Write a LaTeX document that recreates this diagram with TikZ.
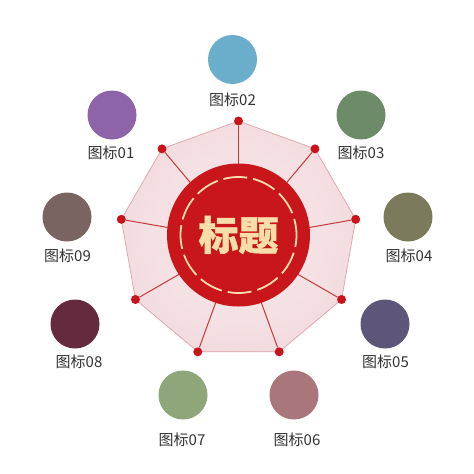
\documentclass[tikz,border=0pt]{standalone}
\usepackage{fontspec}
\newfontfamily\cjk{Noto Sans CJK SC}
\newfontfamily\cjkheavy[BoldFeatures={FakeBold=1.2}]{Noto Sans CJK SC}
\usetikzlibrary{calc}
\definecolor{titlered}{HTML}{C8161B}
\definecolor{dotred}{HTML}{C8141A}
\definecolor{spokered}{HTML}{C23A3E}
\definecolor{edgepink}{HTML}{DDA3A8}
\definecolor{fillin}{HTML}{F9EBED}
\definecolor{fillout}{HTML}{F3DCDF}
\definecolor{cream}{HTML}{F7DDAA}
\definecolor{labelgray}{HTML}{333333}
\definecolor{cA}{HTML}{8E64A8}
\definecolor{cB}{HTML}{6BAECB}
\definecolor{cC}{HTML}{6E8B69}
\definecolor{cD}{HTML}{7B7A5D}
\definecolor{cE}{HTML}{5D5678}
\definecolor{cF}{HTML}{A8767B}
\definecolor{cG}{HTML}{8FA67B}
\definecolor{cH}{HTML}{632B3D}
\definecolor{cI}{HTML}{7A6461}
\begin{document}
\begin{tikzpicture}[x=1pt,y=-1pt,
  lbl/.style={font=\cjk\fontsize{15}{15}\selectfont, text=labelgray, inner sep=0pt},
  icon/.style={circle, minimum size=49pt, inner sep=0pt},
  vdot/.style={circle, fill=dotred, minimum size=9pt, inner sep=0pt},
  spoke/.style={draw=spokered, line width=1pt},
]
\fill[white] (0,0) rectangle (474,474);
\useasboundingbox (0,0) rectangle (474,474);
\coordinate (c) at (238.5,240);
\foreach \i in {0,...,8} \coordinate (v\i) at ($(c)+({270+40*\i}:119)$);
\draw[edgepink, line width=0.7pt, inner color=fillin, outer color=fillout]
  (v0) -- (v1) -- (v2) -- (v3) -- (v4) -- (v5) -- (v6) -- (v7) -- (v8) -- cycle;
\foreach \i in {0,...,8} \node[vdot] (d\i) at (v\i) {};
\foreach \i in {0,...,8} \draw[spoke] (c) -- (d\i);
\node[circle, fill=titlered, minimum size=143pt, inner sep=0pt,
  font=\cjkheavy\bfseries\fontsize{40}{40}\selectfont, text=cream] (title) at (238.5,235) {标题};
\draw[cream, line width=1.8pt, dash pattern=on 24pt off 6pt, dash phase=12pt] (title.center) circle (58);
% icons
\node[icon, fill=cA] (i1) at (112,115) {};
\node[icon, fill=cB] (i2) at (232.5,59.5) {};
\node[icon, fill=cC] (i3) at (361,115) {};
\node[icon, fill=cD] (i4) at (408,217) {};
\node[icon, fill=cE] (i5) at (385,324) {};
\node[icon, fill=cF] (i6) at (294,395) {};
\node[icon, fill=cG] (i7) at (183,395) {};
\node[icon, fill=cH] (i8) at (75,324) {};
\node[icon, fill=cI] (i9) at (67,217) {};
\node[lbl] (l1) at (111,153) {图标01};
\node[lbl] (l2) at (232.5,100) {图标02};
\node[lbl] (l3) at (361,153) {图标03};
\node[lbl] (l4) at (409,256) {图标04};
\node[lbl] (l5) at (385.5,362) {图标05};
\node[lbl] (l6) at (297,440) {图标06};
\node[lbl] (l7) at (182,440) {图标07};
\node[lbl] (l8) at (79,362) {图标08};
\node[lbl] (l9) at (67.5,256) {图标09};
\end{tikzpicture}
\end{document}
